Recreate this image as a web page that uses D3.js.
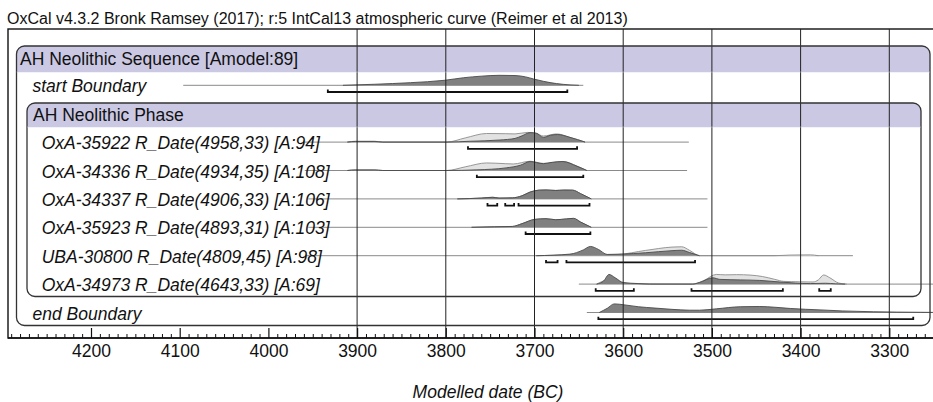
<!DOCTYPE html>
<html><head><meta charset="utf-8">
<script src="https://cdn.jsdelivr.net/npm/d3@7"></script>
<style>
body{margin:0;background:#fff}
svg{display:block}
text{font-family:"Liberation Sans",Arial,Helvetica,sans-serif;fill:#111}
</style>
</head><body>
<svg id="chart" width="933" height="402"></svg>
<script>
// ---------------- DATA ----------------
const title = "OxCal v4.3.2 Bronk Ramsey (2017); r:5 IntCal13 atmospheric curve (Reimer et al 2013)";
const sequenceLabel = "AH Neolithic Sequence [Amodel:89]";
const phaseLabel = "AH Neolithic Phase";
const axisTitle = "Modelled date (BC)";
const majorTicks = [4200, 4100, 4000, 3900, 3800, 3700, 3600, 3500, 3400, 3300];
const tickLabels = ["4200", "4100", "4000", "3900", "3800", "3700", "3600", "3500", "3400", "3300"];
const gridYears = [3900, 3800, 3700, 3600, 3500, 3400, 3300];

const rowLabels = [
  "start Boundary",
  "OxA-35922 R_Date(4958,33) [A:94]",
  "OxA-34336 R_Date(4934,35) [A:108]",
  "OxA-34337 R_Date(4906,33) [A:106]",
  "OxA-35923 R_Date(4893,31) [A:103]",
  "UBA-30800 R_Date(4809,45) [A:98]",
  "OxA-34973 R_Date(4643,33) [A:69]",
  "end Boundary"
];
// full extent of each distribution (cal BC)
const lineExtents = [
  [4096, 3645], [3959, 3526], [3959, 3528], [3955, 3505],
  [3955, 3505], [3958, 3341], [3650, 3240], [3641, 3240]
];
// unmodelled likelihoods [year BC, relative probability]
const likelihood = [
  null,
  [[3911,0],[3902,0.08],[3880,0.08],[3871,0],[3799,0],[3778,0.4],[3754,0.82],[3733,0.8],[3722,0.78],[3708,0.92],[3699,0.85],[3690,0.58],[3675,0.78],[3660,0.45],[3643,0]],
  [[3911,0],[3902,0.06],[3880,0.06],[3871,0],[3799,0],[3778,0.35],[3754,0.72],[3733,0.65],[3724,0.62],[3705,0.88],[3690,0.68],[3668,0.86],[3652,0.42],[3641,0]],
  [[3787,0],[3760,0.08],[3747,0.16],[3740,0.08],[3725,0.1],[3714,0.3],[3705,0.65],[3695,0.84],[3687,0.86],[3676,0.81],[3667,0.85],[3657,0.84],[3648,0.5],[3636,0]],
  [[3771,0],[3745,0.05],[3725,0.08],[3714,0.35],[3700,0.75],[3687,0.82],[3676,0.72],[3664,0.8],[3656,0.85],[3648,0.5],[3636,0]],
  [[3698,0],[3660,0.12],[3637,0.4],[3618,0.1],[3606,0.12],[3575,0.5],[3545,0.82],[3534,0.85],[3525,0.5],[3514,0],[3430,0],[3412,0.06],[3389,0.08],[3380,0]],
  [[3630,0],[3616,0.4],[3600,0.05],[3522,0],[3509,0.35],[3495,0.92],[3485,0.88],[3472,0.9],[3457,0.86],[3443,0.72],[3429,0.45],[3419,0.26],[3401,0.22],[3386,0.2],[3380,0.4],[3374,0.87],[3367,0.6],[3357,0.1],[3348,0]],
  null
];
// modelled posteriors [year BC, relative probability]
const posterior = [
  [[3916,0],[3880,0.1],[3840,0.25],[3801,0.48],[3780,0.72],[3760,0.87],[3740,0.95],[3722,0.93],[3710,0.8],[3701,0.6],[3690,0.38],[3675,0.16],[3660,0.04],[3650,0]],
  [[3911,0],[3902,0.06],[3880,0.06],[3871,0],[3799,0],[3773,0.08],[3739,0.2],[3722,0.35],[3714,0.6],[3705,0.9],[3698,0.85],[3690,0.45],[3682,0.65],[3674,0.72],[3660,0.45],[3643,0]],
  [[3911,0],[3902,0.05],[3880,0.05],[3871,0],[3799,0],[3765,0.06],[3732,0.25],[3716,0.5],[3705,0.85],[3690,0.65],[3680,0.78],[3668,0.85],[3652,0.4],[3641,0]],
  [[3787,0],[3760,0.08],[3747,0.15],[3740,0.08],[3725,0.1],[3714,0.3],[3705,0.65],[3695,0.83],[3687,0.85],[3676,0.8],[3667,0.84],[3657,0.83],[3648,0.5],[3636,0]],
  [[3771,0],[3745,0.05],[3725,0.08],[3714,0.35],[3700,0.75],[3687,0.82],[3676,0.72],[3664,0.8],[3656,0.85],[3648,0.5],[3636,0]],
  [[3698,0],[3660,0.15],[3645,0.55],[3637,0.88],[3628,0.6],[3618,0.12],[3602,0.15],[3575,0.28],[3545,0.48],[3534,0.52],[3525,0.3],[3514,0]],
  [[3630,0],[3622,0.3],[3616,0.92],[3609,0.6],[3600,0.15],[3583,0.05],[3570,0],[3522,0],[3514,0.15],[3499,0.6],[3491,0.45],[3468,0.4],[3446,0.35],[3423,0.2],[3406,0.1],[3389,0.05],[3372,0.08],[3361,0.03],[3350,0]],
  [[3627,0],[3618,0.4],[3610,0.82],[3598,0.72],[3583,0.55],[3564,0.42],[3545,0.3],[3525,0.22],[3514,0.22],[3495,0.35],[3468,0.55],[3446,0.57],[3429,0.5],[3411,0.38],[3378,0.25],[3353,0.15],[3318,0.07],[3265,0.02],[3251,0.01]]
];
// highest posterior density ranges (95.4%)
const hpdRanges = [
  [[3933, 3663]],
  [[3775, 3652]],
  [[3765, 3645]],
  [[3753, 3742], [3733, 3723], [3718, 3638]],
  [[3710, 3637]],
  [[3687, 3674], [3664, 3519]],
  [[3631, 3588], [3523, 3420], [3379, 3366]],
  [[3628, 3273]]
];

// ---------------- DRAW ----------------
const svg = d3.select("#chart");
const x = d3.scaleLinear().domain([4200, 3300]).range([91, 889.3]);
const rowSlot = [0, 2, 3, 4, 5, 6, 7, 8];
const rowY = i => 85.3 + rowSlot[i] * 28.4;
const h = d3.scaleLinear().domain([0, 1]).range([0, 10.5]);

const frameL = 8, frameT = 29, axisY = 338;

// outer frame
svg.append("rect").attr("x", frameL).attr("y", frameT).attr("width", 940).attr("height", axisY - frameT)
  .attr("fill", "none").attr("stroke", "#111").attr("stroke-width", 1.4);

function roundTopPath(x0, y0, x1, y1, r) {
  return `M${x0},${y1}V${y0 + r}Q${x0},${y0} ${x0 + r},${y0}H${x1 - r}Q${x1},${y0} ${x1},${y0 + r}V${y1}Z`;
}
const boxes = [
  {x0: 16.5, y0: 46, x1: 930, y1: 325.5, hb: 72, label: sequenceLabel, tx: 20, ty: 65},
  {x0: 27, y0: 103, x1: 921, y1: 296.5, hb: 127, label: phaseLabel, tx: 33, ty: 120.5}
];
boxes.forEach(b => {
  svg.append("path").attr("d", roundTopPath(b.x0, b.y0, b.x1, b.hb, 8)).attr("fill", "#cbc8e4");
});

// rows
rowLabels.forEach((lab, i) => {
  const y0 = rowY(i);
  const g = svg.append("g");
  g.append("line").attr("x1", x(lineExtents[i][0])).attr("x2", x(lineExtents[i][1]))
    .attr("y1", y0).attr("y2", y0).attr("stroke", "#8a8a8a").attr("stroke-width", 1);
  const area = d3.area().x(d => x(d[0])).y0(y0).y1(d => y0 - h(d[1])).curve(d3.curveMonotoneX);
  const line = d3.line().x(d => x(d[0])).y(d => y0 - h(d[1])).curve(d3.curveMonotoneX);
  if (likelihood[i]) {
    g.append("path").attr("d", area(likelihood[i])).attr("fill", "#e2e2e2");
    g.append("path").attr("d", line(likelihood[i])).attr("fill", "none").attr("stroke", "#8c8c8c").attr("stroke-width", 0.9);
  }
  g.append("path").attr("d", area(posterior[i])).attr("fill", "#808080");
  g.append("path").attr("d", line(posterior[i])).attr("fill", "none").attr("stroke", "#4a4a4a").attr("stroke-width", 0.9);
  const by = y0 + 6.7;
  hpdRanges[i].forEach(r => {
    g.append("path").attr("d", `M${x(r[0])},${by - 2.5}V${by}H${x(r[1])}V${by - 2.5}`)
      .attr("fill", "none").attr("stroke", "#111").attr("stroke-width", 1.8);
  });
  const isDate = i > 0 && i < rowLabels.length - 1;
  g.append("text").attr("x", isDate ? 41.7 : 32.5).attr("y", y0 + 7)
    .attr("font-size", "17.5px").attr("font-style", "italic").text(lab);
});

// grid lines
gridYears.forEach(yr => {
  svg.append("line").attr("x1", x(yr)).attr("x2", x(yr)).attr("y1", frameT).attr("y2", axisY)
    .attr("stroke", "#222").attr("stroke-width", 1);
});

// boxes outlines + header labels
boxes.forEach(b => {
  svg.append("rect").attr("x", b.x0).attr("y", b.y0).attr("width", b.x1 - b.x0).attr("height", b.y1 - b.y0)
    .attr("rx", 8).attr("fill", "none").attr("stroke", "#333").attr("stroke-width", 1.3);
  svg.append("line").attr("x1", b.x0).attr("x2", b.x1).attr("y1", b.hb).attr("y2", b.hb)
    .attr("stroke", "#cbc8e4").attr("stroke-width", 0.5);
  svg.append("text").attr("x", b.tx).attr("y", b.ty).attr("font-size", "17.5px").text(b.label);
});

// axis
const minorTicks = d3.range(4290, 3250, -10).filter(v => v % 100 !== 0);
const minorAxis = d3.axisBottom(x).tickValues(minorTicks).tickSize(-4).tickSizeOuter(0).tickFormat("");
const majorAxis = d3.axisBottom(x).tickValues(majorTicks).tickSize(-10).tickSizeOuter(0)
  .tickPadding(7).tickFormat((d, i) => tickLabels[i]);
const ga1 = svg.append("g").attr("transform", `translate(0,${axisY})`).call(minorAxis);
ga1.select(".domain").remove();
ga1.selectAll("line").attr("stroke", "#111");
const ga2 = svg.append("g").attr("transform", `translate(0,${axisY})`).call(majorAxis);
ga2.select(".domain").remove();
ga2.selectAll("line").attr("stroke", "#111").attr("stroke-width", 1.2);
ga2.selectAll("text").attr("font-size", "17.5px").attr("font-family", '"Liberation Sans",Arial,sans-serif').attr("fill", "#111");
svg.append("line").attr("x1", frameL).attr("x2", 933).attr("y1", axisY).attr("y2", axisY)
  .attr("stroke", "#111").attr("stroke-width", 1.6);

// titles
svg.append("text").attr("x", 7).attr("y", 24).attr("font-size", "16px").text(title);
svg.append("text").attr("x", 488).attr("y", 398).attr("text-anchor", "middle")
  .attr("font-size", "17.5px").attr("font-style", "italic").text(axisTitle);
</script>
</body></html>
